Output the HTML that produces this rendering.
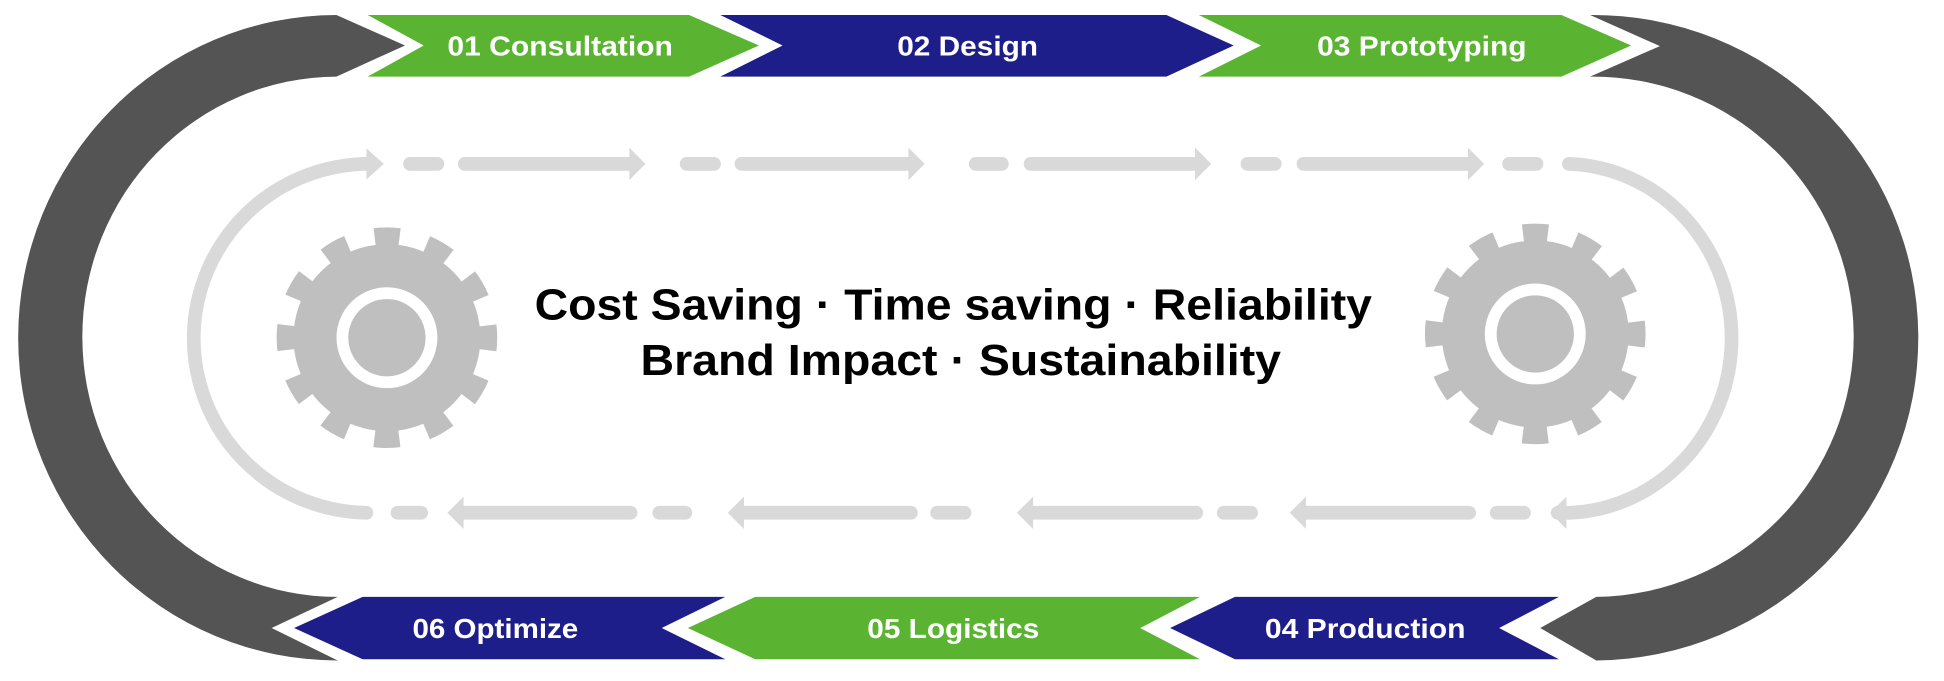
<!DOCTYPE html>
<html><head><meta charset="utf-8"><style>html,body{margin:0;padding:0;background:#fff}svg{display:block}</style></head>
<body>
<svg width="1944" height="681" viewBox="0 0 1560 546.5" preserveAspectRatio="none" xmlns="http://www.w3.org/2000/svg">
<rect width="1560" height="546.5" fill="#fff"/>
<!-- dark arcs -->
<path d="M270,12 L325,36.5 L270,61.5 A204.5,208.75 0 0 0 271,479 L218,504 L271,530 A256,259 0 0 1 270,12 Z" fill="#545454"/>
<path d="M1276,12 L1332,37 L1276,61.5 A209,208.75 0 0 1 1281,479 L1236,504 L1281,530 A261,259 0 0 0 1276,12 Z" fill="#545454"/>
<!-- top banners -->
<polygon points="295,12 553,12 609,36.5 553,61.5 295,61.5 340,36.5" fill="#5ab432"/>
<polygon points="578,12 936,12 990,36.5 936,61.5 578,61.5 628,36.5" fill="#1e1e8a"/>
<polygon points="962,12 1253,12 1309,36.5 1253,61.5 962,61.5 1012,36.5" fill="#5ab432"/>
<!-- bottom banners -->
<polygon points="236,504 291,479 582,479 531,504 582,529 291,529" fill="#1e1e8a"/>
<polygon points="552,504 606,479 963,479 915,504 963,529 606,529" fill="#5ab432"/>
<polygon points="939,504 991,479 1251,479 1203,504 1251,529 991,529" fill="#1e1e8a"/>
<g font-family="Liberation Sans, Arial, sans-serif" font-weight="bold" font-size="22" fill="#fff" lengthAdjust="spacingAndGlyphs">
<text x="359" y="44.5" textLength="181" lengthAdjust="spacingAndGlyphs">01 Consultation</text>
<text x="720" y="44.5" textLength="113" lengthAdjust="spacingAndGlyphs">02 Design</text>
<text x="1057" y="44.5" textLength="168" lengthAdjust="spacingAndGlyphs">03 Prototyping</text>
<text x="331" y="512" textLength="133" lengthAdjust="spacingAndGlyphs">06 Optimize</text>
<text x="696" y="512" textLength="138" lengthAdjust="spacingAndGlyphs">05 Logistics</text>
<text x="1015" y="512" textLength="161" lengthAdjust="spacingAndGlyphs">04 Production</text>
</g>
<!-- light loop -->
<g fill="none" stroke="#d9d9d9" stroke-width="11" stroke-linecap="round">
<path d="M299,131.5 A141,140 0 0 0 294,411.5"/>
<path d="M1259,131.5 A135,140 0 0 1 1250,411.5"/>
<line x1="329" y1="131.5" x2="351" y2="131.5"/><line x1="373" y1="131.5" x2="508" y2="131.5"/>
<line x1="551" y1="131.5" x2="573" y2="131.5"/><line x1="595" y1="131.5" x2="733" y2="131.5"/>
<line x1="783" y1="131.5" x2="804" y2="131.5"/><line x1="827" y1="131.5" x2="962" y2="131.5"/>
<line x1="1001" y1="131.5" x2="1023" y2="131.5"/><line x1="1046" y1="131.5" x2="1180" y2="131.5"/>
<line x1="1211" y1="131.5" x2="1233" y2="131.5"/>
<line x1="1201" y1="411.5" x2="1223" y2="411.5"/><line x1="1044" y1="411.5" x2="1179" y2="411.5"/>
<line x1="982" y1="411.5" x2="1004" y2="411.5"/><line x1="825" y1="411.5" x2="960" y2="411.5"/>
<line x1="752" y1="411.5" x2="774" y2="411.5"/><line x1="593" y1="411.5" x2="731" y2="411.5"/>
<line x1="529" y1="411.5" x2="550" y2="411.5"/><line x1="368" y1="411.5" x2="506" y2="411.5"/>
<line x1="319" y1="411.5" x2="338" y2="411.5"/>
</g>
<g fill="#d9d9d9">
<polygon points="294,119 308,131.5 294,144"/>
<polygon points="505,118.5 518,131.5 505,144.5"/>
<polygon points="729,118.5 742,131.5 729,144.5"/>
<polygon points="959,118.5 972,131.5 959,144.5"/>
<polygon points="1178,118.5 1191,131.5 1178,144.5"/>
<polygon points="1257,398.5 1244,411.5 1257,424.5"/>
<polygon points="1048,398.5 1035,411.5 1048,424.5"/>
<polygon points="829,398.5 816,411.5 829,424.5"/>
<polygon points="597,398.5 584,411.5 597,424.5"/>
<polygon points="372,398.5 359,411.5 372,424.5"/>
</g>
<!-- gears -->
<g>
<circle cx="310.5" cy="271" r="75" fill="#bfbfbf"/>
<circle cx="310.5" cy="271" r="81" fill="none" stroke="#bfbfbf" stroke-width="15" stroke-dasharray="20 22.41" stroke-dashoffset="10"/>
<circle cx="310.5" cy="271" r="40.5" fill="#fff"/>
<circle cx="310.5" cy="271" r="31" fill="#bfbfbf"/>
</g>
<g>
<circle cx="1232" cy="268" r="75" fill="#bfbfbf"/>
<circle cx="1232" cy="268" r="81" fill="none" stroke="#bfbfbf" stroke-width="15" stroke-dasharray="20 22.41" stroke-dashoffset="10"/>
<circle cx="1232" cy="268" r="40.5" fill="#fff"/>
<circle cx="1232" cy="268" r="31" fill="#bfbfbf"/>
</g>
<g font-family="Liberation Sans, Arial, sans-serif" font-weight="bold" font-size="35" fill="#000">
<text x="429" y="256.5" textLength="672" lengthAdjust="spacingAndGlyphs">Cost Saving · Time saving · Reliability</text>
<text x="514" y="301" textLength="514" lengthAdjust="spacingAndGlyphs">Brand Impact · Sustainability</text>
</g>
</svg>
</body></html>
